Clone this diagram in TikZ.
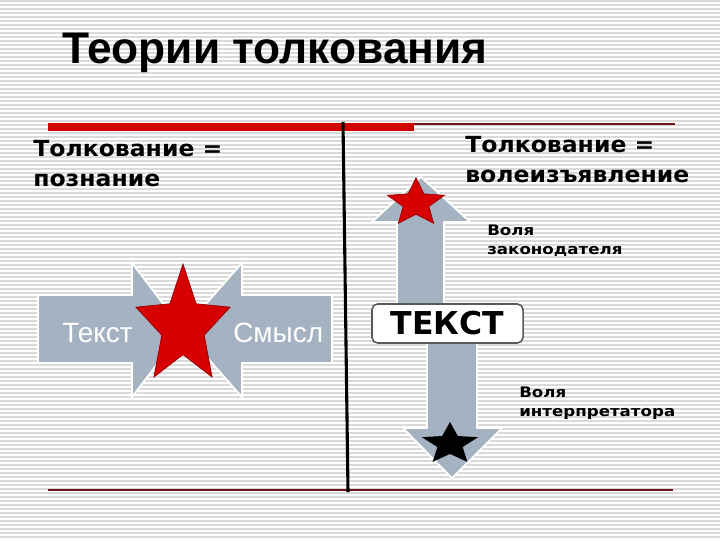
\documentclass[tikz,border=0pt]{standalone}
\usepackage{fontspec}
\setmainfont{Liberation Sans}
\newfontfamily\headfont[FakeStretch=1.06]{DejaVu Sans}
\newfontfamily\labelfont[FakeStretch=1.15]{DejaVu Sans}
\newfontfamily\boxfont{DejaVu Sans}
\usepackage{tikz}
\usetikzlibrary{positioning}
\definecolor{arrowgray}{RGB}{165,178,194}
\definecolor{barred}{RGB}{208,0,0}
\definecolor{starred}{RGB}{214,0,0}
\definecolor{linebrown}{RGB}{110,20,20}
\definecolor{stripegray}{RGB}{218,218,218}
\tikzset{pics/zvezda/.style={code={
  \path[pic actions] (-90:1) -- (-54:.45) -- (-18:1) -- (18:.45) -- (54:1) -- (90:.45)
    -- (126:1) -- (162:.45) -- (198:1) -- (234:.45) -- cycle;}}}

\begin{document}
\begin{tikzpicture}[x=0.025cm,y=-0.025cm,
    stripe/.style={stripegray,line width=1.1pt},
    arrowshape/.style={fill=arrowgray,draw=white,line width=1.2pt},
    heading/.style={inner sep=0,anchor=north west,align=left,font=\headfont\bfseries\fontsize{15.8}{21}\selectfont},
    smalllabel/.style={inner sep=0,anchor=north west,align=left,font=\labelfont\bfseries\fontsize{10.3}{13.5}\selectfont}]
  \useasboundingbox (0,0) rectangle (720,540);
  \fill[white] (0,0) rectangle (720,540);
  % background stripes
  \foreach \y in {1,5,...,537} \draw[stripe] (0,\y) -- (720,\y);
  % title
  \node[inner sep=0,anchor=base west,font=\bfseries\fontsize{31.5}{36}\selectfont] (title) at (62,63) {Теории толкования};
  % rules and the divider
  \fill[barred] (48,123) rectangle (414,131);
  \draw[linebrown,line width=1pt] (414,124) -- (675,124);
  \draw[linebrown,line width=1pt] (48,490) -- (673,490);
  \draw[black,line width=2.2pt] (343,122) -- (348,492);
  % left: two arrows meeting
  \draw[arrowshape] (38,295) -- (132,295) -- (132,263) -- (183,330) -- (132,397) -- (132,363) -- (38,363) -- cycle;
  \draw[arrowshape] (332,295) -- (242,295) -- (242,263) -- (183,330) -- (242,397) -- (242,363) -- (332,363) -- cycle;
  \node[inner sep=0,anchor=base west,white,font=\fontsize{19.9}{24}\selectfont] (tekstleft) at (62,342) {Текст};
  \node[inner sep=0,anchor=base west,white,font=\fontsize{19.9}{24}\selectfont] (smysl) at (233,342) {Смысл};
  \pic[xscale=49.5,yscale=62.5,fill=starred,draw=starred!70!black,line width=.5pt] at (183,326.5) {zvezda};
  % right: up and down arrows
  \draw[arrowshape] (397,310) -- (397,222) -- (372,222) -- (421,177) -- (470,222) -- (444,222) -- (444,310) -- cycle;
  \draw[arrowshape] (427,336) -- (427,428) -- (403,428) -- (452,478) -- (502,428) -- (477,428) -- (477,336) -- cycle;
  \node[draw=gray!70!black,fill=white,rounded corners=4pt,line width=1.1pt,minimum width=3.775cm,minimum height=0.975cm,
        inner sep=0,font=\boxfont\bfseries\fontsize{22.4}{26}\selectfont] (tekst) at (447.5,323.5) {ТЕКСТ};
  \pic[xscale=30,yscale=25,fill=starred,draw=starred!70!black,line width=.5pt] at (416,203) {zvezda};
  \pic[xscale=29.5,yscale=22,fill=black] at (450,444) {zvezda};
  % headings
  \node[heading] (poznanie) at (33,140) {Толкование =\\познание};
  \node[heading] (volja) at (465,136) {Толкование =\\волеизъявление};
  \node[smalllabel] (zakonodatel) at (487,224.4) {Воля\\законодателя};
  \node[smalllabel] (interpretator) at (519,386.4) {Воля\\интерпретатора};
\end{tikzpicture}
\end{document}
